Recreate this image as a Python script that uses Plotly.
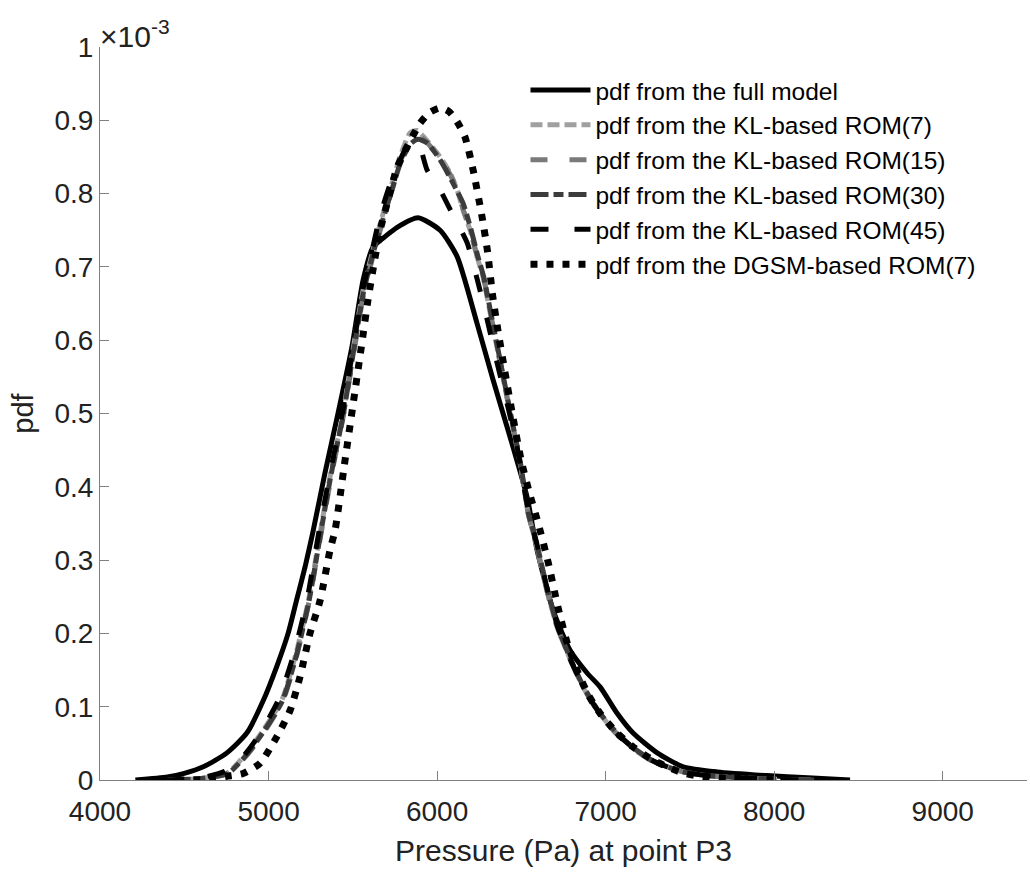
import plotly.graph_objects as go

# Pressure (Pa) and pdf values (in units of 1e-3)
full_x = [4210, 4400, 4500, 4613, 4753, 4871, 4970, 5049, 5116, 5166, 5217, 5262, 5335, 5412, 5495, 5561, 5620, 5700, 5763, 5887, 6018, 6119, 6237, 6332, 6433, 6534, 6593, 6688, 6789, 6890, 6967, 7068, 7163, 7306, 7460, 7662, 7958, 8200, 8450]
full_y = [0.0, 0.004, 0.009, 0.018, 0.037, 0.064, 0.109, 0.155, 0.200, 0.245, 0.291, 0.337, 0.419, 0.500, 0.591, 0.682, 0.727, 0.743, 0.754, 0.767, 0.750, 0.714, 0.623, 0.546, 0.468, 0.386, 0.314, 0.232, 0.177, 0.146, 0.127, 0.091, 0.064, 0.037, 0.018, 0.011, 0.006, 0.003, 0.0]

kl7_x = [4400, 4600, 4753, 4871, 4960, 5079, 5160, 5237, 5306, 5370, 5442, 5500, 5561, 5620, 5680, 5733, 5780, 5840, 5880, 5930, 6018, 6077, 6119, 6154, 6196, 6237, 6273, 6315, 6374, 6433, 6493, 6540, 6590, 6650, 6712, 6789, 6870, 6967, 7068, 7163, 7282, 7442, 7600, 7800, 8000, 8250]
kl7_y = [0.0, 0.002, 0.009, 0.037, 0.065, 0.109, 0.170, 0.245, 0.337, 0.420, 0.500, 0.585, 0.668, 0.723, 0.773, 0.814, 0.850, 0.883, 0.886, 0.875, 0.850, 0.828, 0.805, 0.778, 0.750, 0.714, 0.686, 0.637, 0.569, 0.500, 0.432, 0.364, 0.320, 0.260, 0.209, 0.165, 0.125, 0.090, 0.063, 0.044, 0.026, 0.012, 0.006, 0.003, 0.001, 0.0]

kl15_x = [4420, 4600, 4760, 4880, 4970, 5085, 5165, 5240, 5310, 5375, 5445, 5505, 5565, 5625, 5685, 5738, 5785, 5845, 5885, 5935, 6020, 6080, 6122, 6158, 6200, 6240, 6277, 6318, 6377, 6436, 6495, 6542, 6592, 6652, 6714, 6790, 6872, 6967, 7068, 7163, 7282, 7442, 7600, 7800, 8000, 8230]
kl15_y = [0.0, 0.002, 0.009, 0.036, 0.064, 0.108, 0.168, 0.243, 0.334, 0.418, 0.498, 0.582, 0.664, 0.719, 0.768, 0.809, 0.845, 0.877, 0.880, 0.871, 0.847, 0.825, 0.803, 0.776, 0.748, 0.712, 0.684, 0.635, 0.567, 0.498, 0.430, 0.362, 0.318, 0.258, 0.208, 0.164, 0.124, 0.089, 0.062, 0.043, 0.025, 0.012, 0.006, 0.003, 0.001, 0.0]

kl30_x = [4430, 4600, 4760, 4875, 4965, 5082, 5163, 5240, 5308, 5372, 5444, 5503, 5563, 5622, 5683, 5736, 5783, 5843, 5887, 5941, 6018, 6095, 6154, 6200, 6240, 6277, 6318, 6377, 6436, 6495, 6542, 6592, 6652, 6714, 6790, 6872, 6967, 7068, 7163, 7282, 7442, 7600, 7800, 8000, 8250]
kl30_y = [0.0, 0.002, 0.009, 0.036, 0.064, 0.108, 0.168, 0.244, 0.335, 0.418, 0.499, 0.583, 0.665, 0.720, 0.768, 0.808, 0.842, 0.868, 0.874, 0.869, 0.846, 0.814, 0.787, 0.752, 0.716, 0.686, 0.638, 0.569, 0.500, 0.432, 0.364, 0.322, 0.262, 0.210, 0.166, 0.126, 0.091, 0.064, 0.044, 0.026, 0.012, 0.006, 0.003, 0.001, 0.0]

kl45_x = [4380, 4600, 4740, 4831, 4940, 5060, 5150, 5230, 5300, 5368, 5440, 5500, 5561, 5620, 5662, 5720, 5763, 5810, 5858, 5900, 5941, 6018, 6089, 6178, 6237, 6297, 6356, 6415, 6475, 6540, 6592, 6652, 6714, 6790, 6872, 6967, 7068, 7163, 7282, 7442, 7600, 7800, 8000, 8200]
kl45_y = [0.0, 0.003, 0.012, 0.027, 0.060, 0.110, 0.172, 0.248, 0.340, 0.422, 0.503, 0.588, 0.670, 0.728, 0.770, 0.812, 0.836, 0.860, 0.872, 0.862, 0.832, 0.805, 0.773, 0.733, 0.684, 0.628, 0.569, 0.514, 0.454, 0.370, 0.322, 0.262, 0.210, 0.165, 0.125, 0.090, 0.063, 0.044, 0.026, 0.012, 0.006, 0.003, 0.001, 0.0]

dgsm_x = [4457, 4650, 4753, 4849, 4950, 5049, 5128, 5187, 5246, 5306, 5365, 5395, 5450, 5500, 5550, 5590, 5630, 5662, 5709, 5763, 5822, 5899, 5958, 6020, 6070, 6119, 6166, 6214, 6267, 6300, 6330, 6360, 6400, 6450, 6500, 6550, 6600, 6659, 6718, 6772, 6837, 6900, 6967, 7068, 7163, 7282, 7442, 7561, 7757, 8053]
dgsm_y = [0.0, 0.001, 0.005, 0.009, 0.023, 0.059, 0.095, 0.141, 0.200, 0.245, 0.314, 0.341, 0.430, 0.510, 0.590, 0.655, 0.710, 0.750, 0.791, 0.836, 0.864, 0.896, 0.911, 0.917, 0.912, 0.898, 0.877, 0.832, 0.768, 0.720, 0.660, 0.615, 0.560, 0.495, 0.435, 0.390, 0.350, 0.297, 0.235, 0.187, 0.146, 0.115, 0.091, 0.064, 0.045, 0.027, 0.011, 0.005, 0.002, 0.0]

names = ["pdf from the full model", "pdf from the KL-based ROM(7)", "pdf from the KL-based ROM(15)",
         "pdf from the KL-based ROM(30)", "pdf from the KL-based ROM(45)", "pdf from the DGSM-based ROM(7)"]

series = [
    (full_x, full_y, "#000000", "solid", 5),
    (kl7_x, kl7_y, "#a0a0a0", "12px,5px", 5),
    (kl15_x, kl15_y, "#7a7a7a", "17px,22px", 5),
    (kl30_x, kl30_y, "#3c3c3c", "18px,5px,10px,5px", 5),
    (kl45_x, kl45_y, "#000000", "18px,26px", 5),
    (dgsm_x, dgsm_y, "#000000", "7px,9px", 7),
]

fig = go.Figure()
for (xs, ys, col, dash, w), nm in zip(series, names):
    fig.add_trace(go.Scatter(x=xs, y=ys, mode="lines", name=nm,
                             line=dict(color=col, width=w, dash=dash, shape="spline", smoothing=0.6)))

axis_col = "#808080"
fig.update_layout(
    width=1030, height=873,
    margin=dict(l=100, r=3, t=47, b=93),
    plot_bgcolor="white", paper_bgcolor="white",
    font=dict(family="Liberation Sans, Arial, sans-serif", color="#222222", size=26),
    xaxis=dict(range=[4000, 9500], dtick=1000, tick0=4000, showline=True, linecolor=axis_col, linewidth=1,
               ticks="inside", ticklen=9, tickcolor=axis_col, showgrid=False, zeroline=False,
               ticklabelstandoff=6,
               tickfont=dict(size=28), title=dict(text="Pressure (Pa) at point P3", font=dict(size=30), standoff=14)),
    yaxis=dict(range=[0, 1], dtick=0.1, tick0=0, showline=True, linecolor=axis_col, linewidth=1,
               ticks="inside", ticklen=9, tickcolor=axis_col, showgrid=False, zeroline=False,
               tickfont=dict(size=28), title=dict(text="pdf", font=dict(size=29), standoff=12)),
    legend=dict(x=0.459, y=0.972, xanchor="left", yanchor="top", bgcolor="rgba(0,0,0,0)",
                font=dict(size=24.5, color="#000000"), itemwidth=60, tracegroupgap=0),
    showlegend=True,
)
fig.add_annotation(text="×10<sup>-3</sup>", xref="paper", yref="paper", x=0, y=1, xanchor="left", yanchor="bottom",
                   showarrow=False, font=dict(size=30, color="#222222"), yshift=-8, xshift=-2)

fig.write_html("out.html")
